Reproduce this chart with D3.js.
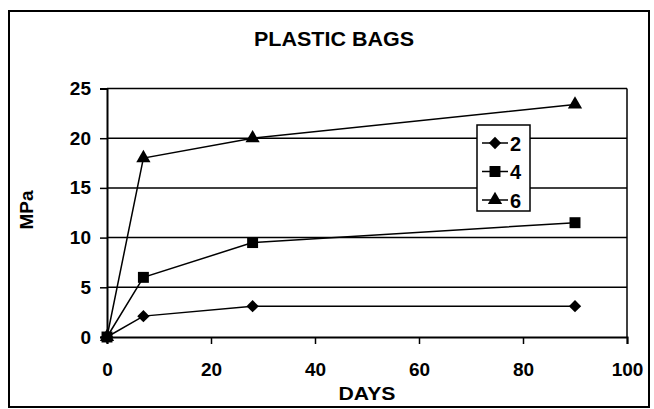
<!DOCTYPE html>
<html>
<head>
<meta charset="utf-8">
<script src="https://cdn.jsdelivr.net/npm/d3@7"></script>
<style>
  html, body { margin: 0; padding: 0; background: #fff; }
  svg { display: block; font-family: "Liberation Sans", Arial, sans-serif; font-weight: bold; }
</style>
</head>
<body>
<svg id="chart" width="654" height="409"></svg>
<script>
// Compressive strength (MPa) over curing time for plastic-bag mixes
const days = [0, 7, 28, 90];
const seriesNames = ["2", "4", "6"];
const series2 = [0, 2.1, 3.1, 3.1];
const series4 = [0, 6.0, 9.5, 11.5];
const series6 = [0, 18.0, 20.0, 23.4];
const xTicks = [0, 20, 40, 60, 80, 100];
const yTicks = [0, 5, 10, 15, 20, 25];

// marker shapes: diamond (rotated square), square, triangle
const diamond = { draw(ctx, size) { const r = Math.sqrt(size / 2); ctx.moveTo(0, -r); ctx.lineTo(r, 0); ctx.lineTo(0, r); ctx.lineTo(-r, 0); ctx.closePath(); } };
const markerTypes = [diamond, d3.symbolSquare, d3.symbolTriangle];
const markerSizes = [76, 120, 88];

const svg = d3.select("#chart");
const plot = { left: 107, right: 627, top: 88.5, bottom: 337 };

// outer frame
svg.append("rect")
  .attr("x", 9).attr("y", 11).attr("width", 640).attr("height", 396)
  .attr("fill", "#fff").attr("stroke", "#000").attr("stroke-width", 2);

const x = d3.scaleLinear().domain([0, 100]).range([plot.left, plot.right]);
const y = d3.scaleLinear().domain([0, 25]).range([plot.bottom, plot.top]);

// horizontal gridlines
svg.append("g").selectAll("line").data(yTicks.filter(v => v > 0)).join("line")
  .attr("x1", plot.left).attr("x2", plot.right)
  .attr("y1", d => y(d)).attr("y2", d => y(d))
  .attr("stroke", "#000").attr("stroke-width", 1.5);

// right edge of the plot area
svg.append("line")
  .attr("x1", plot.right).attr("x2", plot.right)
  .attr("y1", plot.top).attr("y2", plot.bottom)
  .attr("stroke", "#000").attr("stroke-width", 1.5);

// axes
const xAxis = d3.axisBottom(x).tickValues(xTicks).tickSize(7).tickPadding(19);
const yAxis = d3.axisLeft(y).tickValues(yTicks).tickSize(7).tickPadding(9);

const gx = svg.append("g").attr("transform", `translate(0,${plot.bottom})`).call(xAxis);
const gy = svg.append("g").attr("transform", `translate(${plot.left},0)`).call(yAxis);
[gx, gy].forEach(g => {
  g.select(".domain").attr("stroke", "#000").attr("stroke-width", 2);
  g.selectAll(".tick line").attr("stroke", "#000").attr("stroke-width", 1.5);
  g.selectAll(".tick text").attr("fill", "#000")
    .style("font-family", "'Liberation Sans', Arial, sans-serif")
    .style("font-weight", "bold").style("font-size", "19px");
});

// title and axis titles
svg.append("text").attr("x", 334).attr("y", 46).attr("text-anchor", "middle")
  .attr("textLength", 160).attr("lengthAdjust", "spacingAndGlyphs")
  .style("font-size", "20px").text("PLASTIC BAGS");
svg.append("text").attr("x", 367).attr("y", 400).attr("text-anchor", "middle")
  .attr("textLength", 57).attr("lengthAdjust", "spacingAndGlyphs")
  .style("font-size", "19px").text("DAYS");
svg.append("text").attr("transform", "translate(33,210) rotate(-90)")
  .attr("text-anchor", "middle").style("font-size", "19px").text("MPa");

// series lines and markers
const allSeries = [series2, series4, series6];
const line = d3.line().x((d, i) => x(days[i])).y(d => y(d));

allSeries.forEach(vals => {
  svg.append("path").datum(vals)
    .attr("d", line).attr("fill", "none")
    .attr("stroke", "#000").attr("stroke-width", 1.5);
});
allSeries.forEach((vals, si) => {
  svg.append("g").selectAll("path").data(vals).join("path")
    .attr("transform", (d, i) => `translate(${x(days[i])},${y(d)})`)
    .attr("d", d3.symbol().type(markerTypes[si]).size(markerSizes[si]))
    .attr("fill", "#000");
});

// legend
const lg = svg.append("g");
lg.append("rect").attr("x", 477).attr("y", 125).attr("width", 53).attr("height", 86)
  .attr("fill", "#fff").attr("stroke", "#000").attr("stroke-width", 1.5);
seriesNames.forEach((name, i) => {
  const cy = 143 + i * 28.5;
  lg.append("line").attr("x1", 482).attr("x2", 508).attr("y1", cy).attr("y2", cy)
    .attr("stroke", "#000").attr("stroke-width", 1.5);
  lg.append("path").attr("transform", `translate(495,${cy})`)
    .attr("d", d3.symbol().type(markerTypes[i]).size(markerSizes[i])).attr("fill", "#000");
  lg.append("text").attr("x", 510).attr("y", cy + 7.5)
    .style("font-size", "20px").text(name);
});
</script>
</body>
</html>
